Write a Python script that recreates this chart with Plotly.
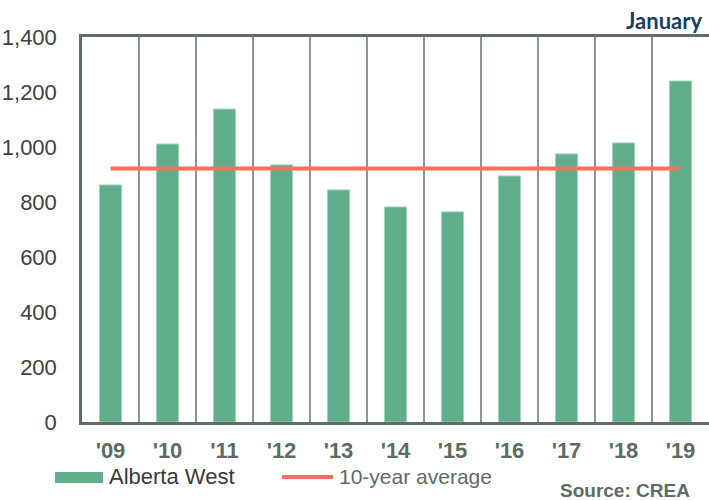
import plotly.graph_objects as go

# ---- data ----
years = ["'09", "'10", "'11", "'12", "'13", "'14", "'15", "'16", "'17", "'18", "'19"]
alberta_west = [862, 1011, 1138, 935, 844, 782, 764, 895, 975, 1015, 1240]
ten_year_avg = [922] * len(years)
y_ticks = [0, 200, 400, 600, 800, 1000, 1200, 1400]
bar_name = "Alberta West"
line_name = "10-year average"
title_text = "January"
source_text = "Source: CREA"

# ---- geometry helpers (pixel -> paper) ----
W, H = 709, 500
L, R, T, B = 82, 0, 37, 78
PW, PH = W - L - R, H - T - B


def px(x):
    return (x - L) / PW


def py(y):
    return (H - B - y) / PH


GREEN = "#60ae8c"
RED = "#f7705f"
AXIS = "#5f6d68"
GRID = "#8b939d"

fig = go.Figure()
fig.add_trace(go.Bar(
    x=years, y=alberta_west, name=bar_name,
    marker=dict(color=GREEN, line=dict(color="#a3d5bd", width=1)),
    width=0.39, showlegend=False,
))
fig.add_trace(go.Scatter(
    x=years, y=ten_year_avg, name=line_name, mode="lines",
    line=dict(color=RED, width=4), showlegend=False,
))

fig.update_layout(
    width=W, height=H,
    margin=dict(l=L, r=R, t=T, b=B),
    paper_bgcolor="white", plot_bgcolor="white",
    font=dict(family="Liberation Sans, Arial, sans-serif"),
    xaxis=dict(
        type="category", tickson="boundaries", showgrid=True,
        gridcolor=GRID, gridwidth=2,
        showline=True, linecolor=AXIS, linewidth=2.5, mirror=True,
        ticks="", ticklabelstandoff=7,
        tickfont=dict(family="Liberation Sans, Arial", size=22, color="#5b6b65", weight="bold"),
    ),
    yaxis=dict(
        range=[0, 1400], tickvals=y_ticks, tickformat=",",
        showgrid=False, zeroline=False,
        showline=True, linecolor=AXIS, linewidth=2.5,
        ticks="", ticklabelstandoff=18,
        tickfont=dict(family="Liberation Sans, Arial", size=22, color="#404040"),
    ),
)

# legend drawn by hand to match the wide swatches
fig.add_shape(type="rect", xref="paper", yref="paper",
              x0=px(55), x1=px(103), y0=py(483), y1=py(472),
              fillcolor=GREEN, line=dict(width=0))
fig.add_annotation(xref="paper", yref="paper", x=px(107), y=py(476),
                   text=bar_name, showarrow=False, xanchor="left", yanchor="middle",
                   font=dict(family="Liberation Sans, Arial", size=22, color="#3a3a3a"))
fig.add_shape(type="line", xref="paper", yref="paper",
              x0=px(282), x1=px(333), y0=py(477), y1=py(477),
              line=dict(color=RED, width=4))
fig.add_annotation(xref="paper", yref="paper", x=px(337), y=py(476),
                   text=line_name, showarrow=False, xanchor="left", yanchor="middle",
                   font=dict(family="Liberation Sans, Arial", size=21, color="#5b6b65"))
fig.add_annotation(xref="paper", yref="paper", x=px(692), y=py(490),
                   text=source_text, showarrow=False, xanchor="right", yanchor="middle",
                   font=dict(family="Liberation Sans, Arial", size=19, color="#5b6b65", weight="bold"))
fig.add_annotation(xref="paper", yref="paper", x=px(704), y=py(20),
                   text=title_text, showarrow=False, xanchor="right", yanchor="middle",
                   font=dict(family="Lato, Open Sans, sans-serif", size=22, color="#173f5f", weight="bold"))

fig.write_html("out.html")
